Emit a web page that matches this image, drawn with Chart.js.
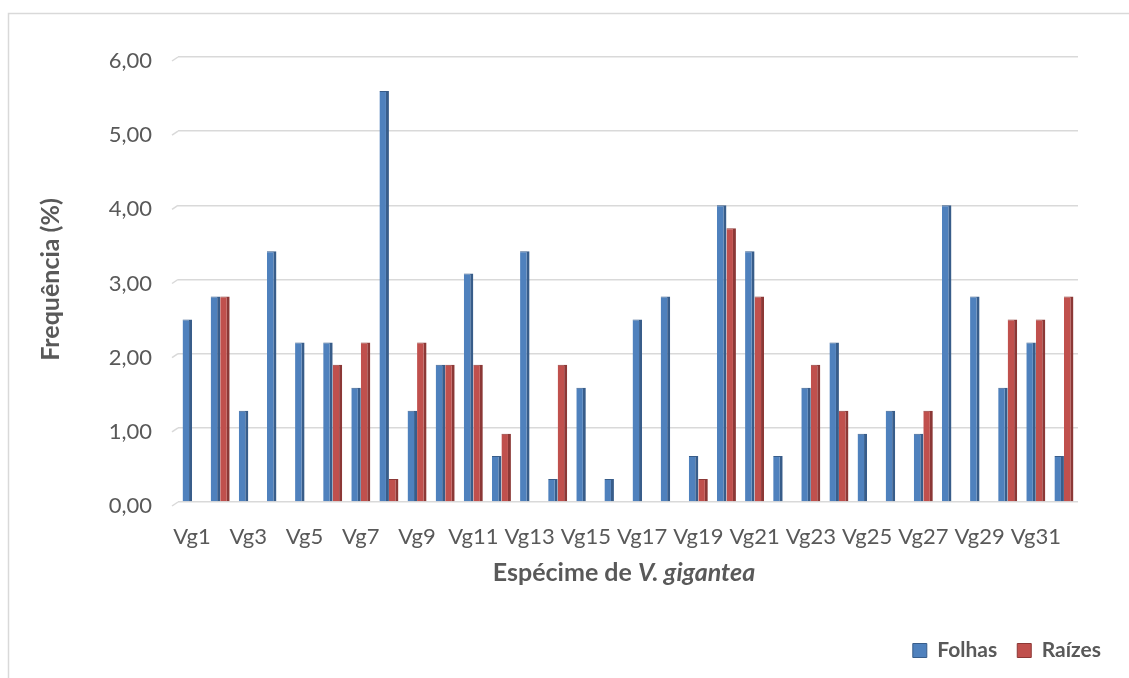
<!DOCTYPE html>
<html>
<head>
    <meta charset="UTF-8">
    <script src="https://cdn.jsdelivr.net/npm/chart.js@4.4.1/dist/chart.umd.min.js" type="text/javascript"></script>
    <title>Frequência por espécime</title>
    <style>
        body { margin: 0; background: #fff; }
        #wrap { width: 1129px; height: 678px; }
    </style>
</head>
<body>
    <div id="wrap"><canvas id="myChart" width="1129" height="678"></canvas></div>
    <script type="text/javascript">
        const especimes = ['Vg1','Vg2','Vg3','Vg4','Vg5','Vg6','Vg7','Vg8','Vg9','Vg10','Vg11','Vg12','Vg13','Vg14','Vg15','Vg16',
                           'Vg17','Vg18','Vg19','Vg20','Vg21','Vg22','Vg23','Vg24','Vg25','Vg26','Vg27','Vg28','Vg29','Vg30','Vg31','Vg32'];
        const folhas = [2.46, 2.77, 1.23, 3.38, 2.15, 2.15, 1.54, 5.54, 1.23, 1.85, 3.08, 0.62, 3.38, 0.31, 1.54, 0.31,
                        2.46, 2.77, 0.62, 4.00, 3.38, 0.62, 1.54, 2.15, 0.92, 1.23, 0.92, 4.00, 2.77, 1.54, 2.15, 0.62];
        const raizes = [0, 2.77, 0, 0, 0, 1.85, 2.15, 0.31, 2.15, 1.85, 1.85, 0.92, 0, 1.85, 0, 0,
                        0, 0, 0.31, 3.69, 2.77, 0, 1.85, 1.23, 0, 0, 1.23, 0, 0, 2.46, 2.46, 2.77];
        const yTicks = [0, 1, 2, 3, 4, 5, 6];

        const fonte = 'Lato';
        const cinza = '#595959';

        // moldura e título do eixo x (parte em itálico)
        const extras = {
            id: 'extras',
            beforeDraw(chart) {
                const c = chart.ctx;
                c.save();
                c.strokeStyle = '#d9d9d9';
                c.lineWidth = 1.5;
                c.beginPath();
                c.moveTo(8.5, 700);
                c.lineTo(8.5, 13.5);
                c.lineTo(1140, 13.5);
                c.stroke();
                // "chão" 3D das linhas de grade
                const y = chart.scales.y, left = chart.chartArea.left;
                yTicks.forEach(v => {
                    const py = y.getPixelForValue(v);
                    c.beginPath();
                    c.moveTo(left - 6, py + 4);
                    c.lineTo(left, py);
                    c.stroke();
                });
                c.restore();
            },
            afterDraw(chart) {
                const c = chart.ctx;
                const a = 'Espécime de ', b = 'V. gigantea';
                c.save();
                c.fillStyle = cinza;
                c.textBaseline = 'middle';
                c.font = 'bold 25px ' + fonte;
                const wa = c.measureText(a).width;
                c.font = 'italic bold 25px ' + fonte;
                const wb = c.measureText(b).width;
                const x0 = 624 - (wa + wb) / 2;
                c.font = 'bold 25px ' + fonte;
                c.fillText(a, x0, 573);
                c.font = 'italic bold 25px ' + fonte;
                c.fillText(b, x0 + wa, 573);
                c.restore();
            }
        };

        const ctx = document.getElementById('myChart').getContext('2d');
        const myChart = new Chart(ctx, {
            type: 'bar',
            data: {
                labels: especimes,
                datasets: [{
                    label: 'Folhas',
                    data: folhas,
                    backgroundColor: '#4f81bd',
                    borderColor: '#385d8a',
                    borderWidth: {top: 1, right: 3, bottom: 0, left: 0},
                    borderSkipped: false
                }, {
                    label: 'Raízes',
                    data: raizes,
                    backgroundColor: '#c0504d',
                    borderColor: '#8c3836',
                    borderWidth: {top: 1, right: 3, bottom: 0, left: 0},
                    borderSkipped: false
                }]
            },
            options: {
                responsive: false,
                animation: false,
                layout: { padding: {left: 30, right: 8, top: 57, bottom: 7} },
                categoryPercentage: 0.675,
                barPercentage: 1,
                plugins: {
                    tooltip: { enabled: false },
                    legend: {
                        position: 'bottom',
                        align: 'end',
                        labels: {
                            boxWidth: 14, boxHeight: 14, padding: 20,
                            color: cinza,
                            font: { family: fonte, size: 21, weight: 'bold' }
                        }
                    }
                },
                scales: {
                    x: {
                        grid: { display: false },
                        border: { display: false },
                        ticks: {
                            autoSkip: false, maxRotation: 0, padding: 14,
                            color: cinza,
                            font: { family: fonte, size: 22 },
                            callback: function(v, i) { return i % 2 === 0 ? especimes[i] : ''; }
                        },
                        afterFit(s) { s.height = 118; }
                    },
                    y: {
                        min: 0, max: 6,
                        afterBuildTicks(s) { s.ticks = yTicks.map(v => ({value: v})); },
                        grid: { color: '#d9d9d9', lineWidth: 1.5, drawTicks: false },
                        border: { display: false },
                        ticks: {
                            padding: 26, labelOffset: 4,
                            color: cinza,
                            font: { family: fonte, size: 22 },
                            callback: v => v.toFixed(2).replace('.', ',')
                        },
                        title: {
                            display: true, text: 'Frequência (%)',
                            color: cinza, padding: {top: 6, bottom: 0},
                            font: { family: fonte, size: 25, weight: 'bold' }
                        },
                        afterFit(s) { s.width = 148; }
                    },
                    y2: {
                        position: 'right',
                        grid: { display: false },
                        border: { display: false },
                        ticks: { display: false },
                        afterFit(s) { s.width = 43; }
                    }
                }
            },
            plugins: [extras]
        });
    </script>
</body>
</html>
